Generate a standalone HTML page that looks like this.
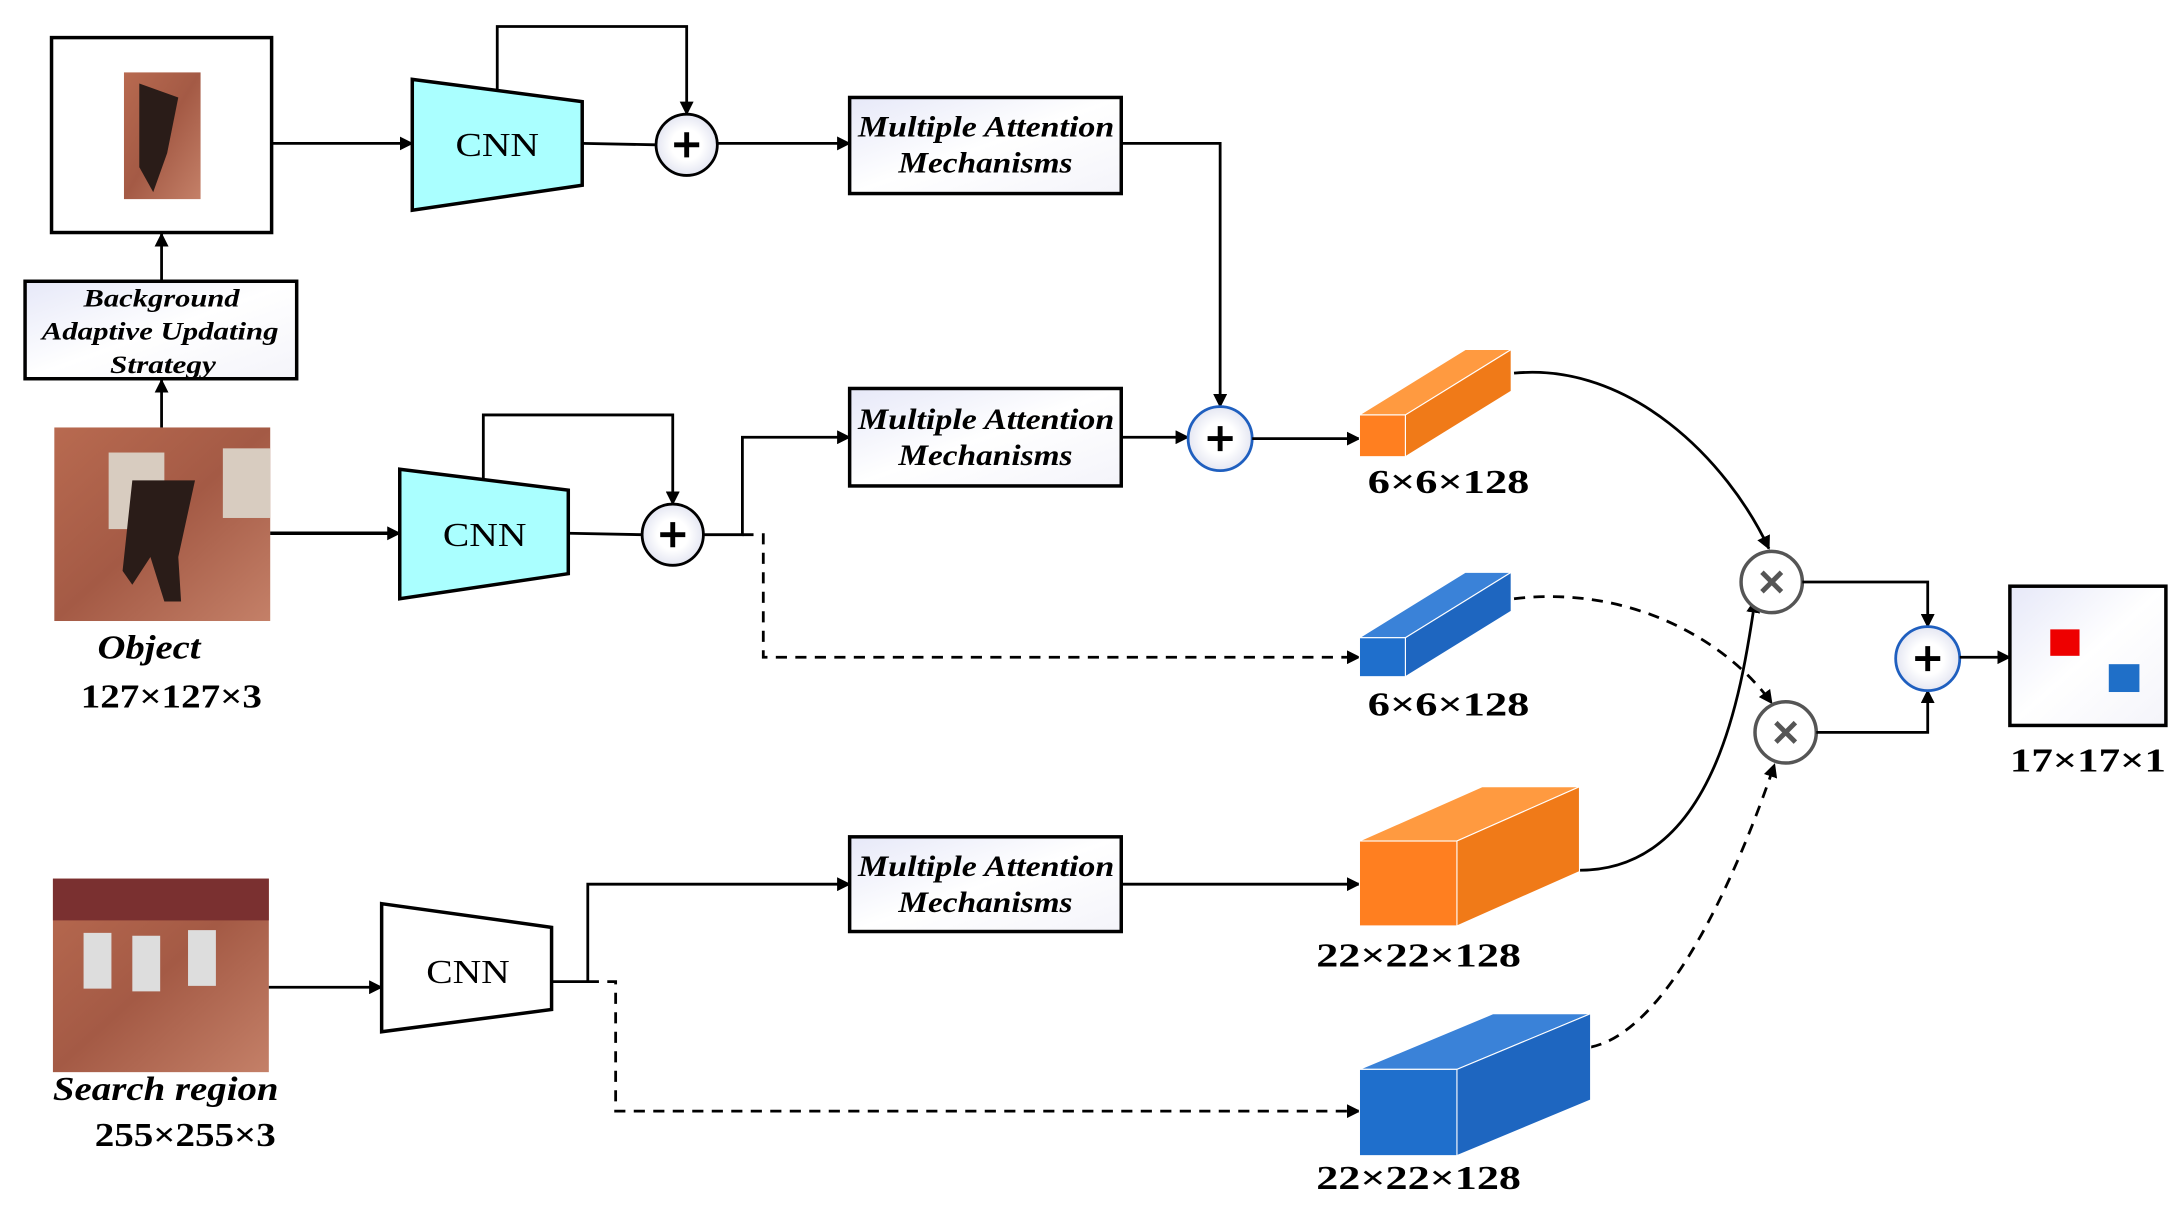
<!DOCTYPE html>
<html><head><meta charset="utf-8"><style>
html,body{margin:0;padding:0;background:#fff;}
svg{display:block;}
text{font-family:"Liberation Serif",serif;}
</style></head><body>
<svg width="2184" height="1210" viewBox="0 0 1568 869" preserveAspectRatio="none" xmlns="http://www.w3.org/2000/svg">
<defs>
<marker id="a" markerWidth="10" markerHeight="10" refX="9" refY="5" orient="auto" markerUnits="userSpaceOnUse"><path d="M0,0 L10,5 L0,10 z" fill="#000"/></marker>
<linearGradient id="g" x1="0" y1="0" x2="1" y2="1"><stop offset="0" stop-color="#e6e8f8"/><stop offset="0.5" stop-color="#fff"/><stop offset="1" stop-color="#f4f4fa"/></linearGradient>
<radialGradient id="cg"><stop offset="0.5" stop-color="#fff"/><stop offset="1" stop-color="#e4e6f2"/></radialGradient>
<linearGradient id="ph" x1="0" y1="0" x2="1" y2="1"><stop offset="0" stop-color="#b86a50"/><stop offset="0.5" stop-color="#a45a45"/><stop offset="1" stop-color="#c48068"/></linearGradient>
</defs>
<g fill="none" stroke="#000" stroke-width="2">
<rect x="37" y="27" width="158" height="140" fill="#fff" stroke-width="2.5"/>
<rect x="89" y="52" width="55" height="91" fill="url(#ph)" stroke="none"/>
<path d="M100,60 L128,70 L120,110 L110,138 L100,120 Z" fill="#2a1c18" stroke="none"/>
<line x1="195" y1="103" x2="296" y2="103" marker-end="url(#a)"/>
<polygon points="296,57 418,73 418,133 296,151" fill="#aaffff" stroke-width="2.5"/>
<path d="M357,64 V19 H493 V82" marker-end="url(#a)"/>
<line x1="418" y1="103" x2="471" y2="104"/>
<circle cx="493" cy="104" r="22" fill="url(#cg)"/>
<line x1="515" y1="103" x2="610" y2="103" marker-end="url(#a)"/>
<rect x="610" y="70" width="195" height="69" fill="url(#g)" stroke-width="2.5"/>
<path d="M805,103 H876 V292" marker-end="url(#a)"/>
<rect x="18" y="202" width="195" height="70" fill="url(#g)" stroke-width="2.5"/>
<line x1="116" y1="202" x2="116" y2="168" marker-end="url(#a)"/>
<line x1="116" y1="307" x2="116" y2="273" marker-end="url(#a)"/>
<rect x="39" y="307" width="155" height="139" fill="url(#ph)" stroke="none"/>
<rect x="78" y="325" width="40" height="55" fill="#d8ccc0" stroke="none"/>
<rect x="160" y="322" width="34" height="50" fill="#d8ccc0" stroke="none"/>
<path d="M95,345 L140,345 L128,400 L130,432 L118,432 L108,400 L95,420 L88,410 Z" fill="#2a1c18" stroke="none"/>
<line x1="194" y1="383" x2="287" y2="383" marker-end="url(#a)" stroke-width="2.5"/>
<polygon points="287,337 408,352 408,412 287,430" fill="#aaffff" stroke-width="2.5"/>
<path d="M347,345 V298 H483 V362" marker-end="url(#a)"/>
<line x1="408" y1="383" x2="461" y2="384"/>
<circle cx="483" cy="384" r="22" fill="url(#cg)"/>
<path d="M505,384 H533 V314 H610" marker-end="url(#a)"/>
<path d="M533,384 H548 V472 H976" stroke-dasharray="8,6" marker-end="url(#a)"/>
<rect x="610" y="279" width="195" height="70" fill="url(#g)" stroke-width="2.5"/>
<line x1="805" y1="314" x2="853" y2="314" marker-end="url(#a)"/>
<circle cx="876" cy="315" r="23" fill="url(#cg)" stroke="#1f5fbf"/>
<line x1="899" y1="315" x2="976" y2="315" marker-end="url(#a)"/>
<rect x="38" y="631" width="155" height="139" fill="url(#ph)" stroke="none"/>
<rect x="38" y="631" width="155" height="30" fill="#7a3030" stroke="none"/>
<path d="M60,670 h20 v40 h-20z M95,672 h20 v40 h-20z M135,668 h20 v40 h-20z" fill="#ddd" stroke="none"/>
<line x1="193" y1="709" x2="274" y2="709" marker-end="url(#a)"/>
<polygon points="274,649 396,666 396,725 274,741" fill="#fff" stroke-width="2.5"/>
<path d="M396,705 H422 V635 H610" marker-end="url(#a)"/>
<path d="M422,705 H442 V798 H976" stroke-dasharray="8,6" marker-end="url(#a)"/>
<rect x="610" y="601" width="195" height="68" fill="url(#g)" stroke-width="2.5"/>
<line x1="805" y1="635" x2="976" y2="635" marker-end="url(#a)"/>
<path d="M1087,268 C1170,260 1240,330 1270,394" marker-end="url(#a)"/>
<path d="M1087,430 C1170,420 1240,460 1272,505" stroke-dasharray="8,6" marker-end="url(#a)"/>
<path d="M1134,625 C1230,625 1250,500 1260,431" marker-end="url(#a)"/>
<path d="M1142,752 C1200,740 1250,620 1274,549" stroke-dasharray="8,6" marker-end="url(#a)"/>
<circle cx="1272" cy="418" r="22" fill="#fff" stroke="#555" stroke-width="2.5"/>
<circle cx="1282" cy="526" r="22" fill="#fff" stroke="#555" stroke-width="2.5"/>
<path d="M1294,418 H1384 V450" marker-end="url(#a)"/>
<path d="M1304,526 H1384 V496" marker-end="url(#a)"/>
<circle cx="1384" cy="473" r="23" fill="url(#cg)" stroke="#1f5fbf"/>
<line x1="1407" y1="472" x2="1443" y2="472" marker-end="url(#a)"/>
<rect x="1443" y="421" width="112" height="100" fill="url(#g)" stroke-width="2.5"/>
</g>
<g stroke="#000" stroke-width="3.5">
<path d="M493,95 V113 M484,104 H502"/>
<path d="M483,375 V393 M474,384 H492"/>
<path d="M876,306 V324 M867,315 H885"/>
<path d="M1384,464 V482 M1375,473 H1393"/>
</g>
<g stroke="#555" stroke-width="3.5">
<path d="M1265,411 L1279,425 M1279,411 L1265,425"/>
<path d="M1275,519 L1289,533 M1289,519 L1275,533"/>
</g>
<rect x="1472" y="452" width="21" height="19" fill="#ee0000"/>
<rect x="1514" y="477" width="22" height="20" fill="#1f6fc8"/>
<g stroke="#fff" stroke-width="0.8">
<polygon points="976,298 1052,251 1085,251 1009,298" fill="#ff9a40"/>
<polygon points="1009,298 1085,251 1085,281 1009,328" fill="#f07a18"/>
<rect x="976" y="298" width="33" height="30" fill="#ff7f20"/>
<polygon points="976,458 1052,411 1085,411 1009,458" fill="#3a82d8"/>
<polygon points="1009,458 1085,411 1085,439 1009,486" fill="#1e66c0"/>
<rect x="976" y="458" width="33" height="28" fill="#1f6fcc"/>
<polygon points="976,604 1064,565 1134,565 1046,604" fill="#ff9a40"/>
<polygon points="1046,604 1134,565 1134,626 1046,665" fill="#f07a18"/>
<rect x="976" y="604" width="70" height="61" fill="#ff7f20"/>
<polygon points="976,768 1072,728 1142,728 1046,768" fill="#3a82d8"/>
<polygon points="1046,768 1142,728 1142,790 1046,830" fill="#1e66c0"/>
<rect x="976" y="768" width="70" height="62" fill="#1f6fcc"/>
</g>
<g font-size="24" lengthAdjust="spacingAndGlyphs">
<text x="327" y="112" textLength="60" lengthAdjust="spacingAndGlyphs">CNN</text>
<text x="318" y="392" textLength="60" lengthAdjust="spacingAndGlyphs">CNN</text>
<text x="306" y="706" textLength="60" lengthAdjust="spacingAndGlyphs">CNN</text>
</g>
<g font-size="21" font-style="italic" font-weight="bold">
<text x="616" y="98" textLength="184" lengthAdjust="spacingAndGlyphs">Multiple Attention</text><text x="645" y="124" textLength="125" lengthAdjust="spacingAndGlyphs">Mechanisms</text>
<text x="616" y="308" textLength="184" lengthAdjust="spacingAndGlyphs">Multiple Attention</text><text x="645" y="334" textLength="125" lengthAdjust="spacingAndGlyphs">Mechanisms</text>
<text x="616" y="629" textLength="184" lengthAdjust="spacingAndGlyphs">Multiple Attention</text><text x="645" y="655" textLength="125" lengthAdjust="spacingAndGlyphs">Mechanisms</text>
</g>
<g font-size="18" font-style="italic" font-weight="bold">
<text x="60" y="220" textLength="112" lengthAdjust="spacingAndGlyphs">Background</text>
<text x="30" y="244" textLength="170" lengthAdjust="spacingAndGlyphs">Adaptive Updating</text>
<text x="79" y="268" textLength="76" lengthAdjust="spacingAndGlyphs">Strategy</text>
</g>
<g font-size="24" font-weight="bold">
<text x="70" y="473" font-style="italic" textLength="74" lengthAdjust="spacingAndGlyphs">Object</text>
<text x="58" y="508" textLength="130" lengthAdjust="spacingAndGlyphs">127×127×3</text>
<text x="38" y="790" font-style="italic" textLength="162" lengthAdjust="spacingAndGlyphs">Search region</text>
<text x="68" y="823" textLength="130" lengthAdjust="spacingAndGlyphs">255×255×3</text>
<text x="982" y="354" textLength="116" lengthAdjust="spacingAndGlyphs">6×6×128</text>
<text x="982" y="514" textLength="116" lengthAdjust="spacingAndGlyphs">6×6×128</text>
<text x="945" y="694" textLength="147" lengthAdjust="spacingAndGlyphs">22×22×128</text>
<text x="945" y="854" textLength="147" lengthAdjust="spacingAndGlyphs">22×22×128</text>
<text x="1443" y="554" textLength="112" lengthAdjust="spacingAndGlyphs">17×17×1</text>
</g>
</svg>
</body></html>
